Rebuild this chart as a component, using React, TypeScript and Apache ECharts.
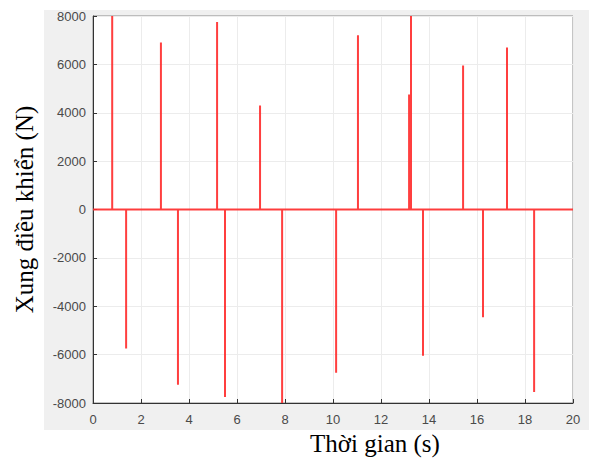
import React, { useEffect, useRef } from "react";
import * as echarts from "echarts";

const pulseTimes = [0.8, 1.38, 2.83, 3.54, 5.17, 5.5, 6.96, 7.88, 10.13, 11.04, 13.17, 13.25, 13.75, 15.42, 16.25, 17.25, 18.38];
const pulseValues = [8000, -5750, 6900, -7250, 7750, -7750, 4300, -8000, -6750, 7200, 4750, 8000, -6050, 5950, -4450, 6700, -7550];
const xRange = [0, 20];
const yRange = [-8000, 8000];
const yLabel = "Xung điều khiển (N)";
const xLabel = "Thời gian (s)";

export default function App() {
  const ref = useRef<HTMLDivElement>(null);
  useEffect(() => {
    if (!ref.current) return;
    const chart = echarts.init(ref.current, null, { renderer: "svg" });
    const data: number[][] = [[xRange[0], 0]];
    pulseTimes.forEach((t, i) => {
      data.push([t, 0], [t, pulseValues[i]], [t, 0]);
    });
    data.push([xRange[1], 0]);
    const tickFont = { fontFamily: "Liberation Sans", fontSize: 13, color: "#4a4a4a" };
    chart.setOption({
      animation: false,
      backgroundColor: "#ffffff",
      graphic: [
        { type: "rect", z: -10, silent: true, shape: { x: 44, y: 10, width: 545, height: 420 }, style: { fill: "#f0f0f0" } },
        { type: "text", left: 310, top: 431, style: { text: xLabel, font: "25px 'Liberation Serif'", fill: "#000" } },
      ],
      grid: { left: 93, right: 16, top: 16, bottom: 57, show: true, backgroundColor: "#ffffff", borderColor: "#8a8a8a", borderWidth: 1, containLabel: false, outerBoundsMode: "none" },
      xAxis: {
        type: "value", min: xRange[0], max: xRange[1], interval: 2,
        axisLine: { show: true, onZero: false, lineStyle: { color: "#333" } },
        axisTick: { show: true, inside: true, length: 4, lineStyle: { color: "#333" } },
        axisLabel: { ...tickFont, margin: 10, formatter: (v: number) => String(v) },
        splitLine: { show: true, lineStyle: { color: "#ececec" } },
      },
      yAxis: {
        type: "value", min: yRange[0], max: yRange[1], interval: 2000,
        name: yLabel, nameLocation: "middle", nameGap: 56, nameRotate: 90,
        nameTextStyle: { fontFamily: "Liberation Serif", fontSize: 25, color: "#000" },
        axisLine: { show: true, onZero: false, lineStyle: { color: "#333" } },
        axisTick: { show: true, inside: true, length: 4, lineStyle: { color: "#333" } },
        axisLabel: { ...tickFont, margin: 7, formatter: (v: number) => String(v) },
        splitLine: { show: true, lineStyle: { color: "#ececec" } },
      },
      series: [
        {
          type: "line", data, showSymbol: false, symbol: "none",
          lineStyle: { color: "#ff2a2a", width: 2, opacity: 0.9 },
        },
      ],
    });
    return () => chart.dispose();
  }, []);
  return <div ref={ref} style={{ position: "fixed", left: 0, top: 0, width: 589, height: 460 }} />;
}
